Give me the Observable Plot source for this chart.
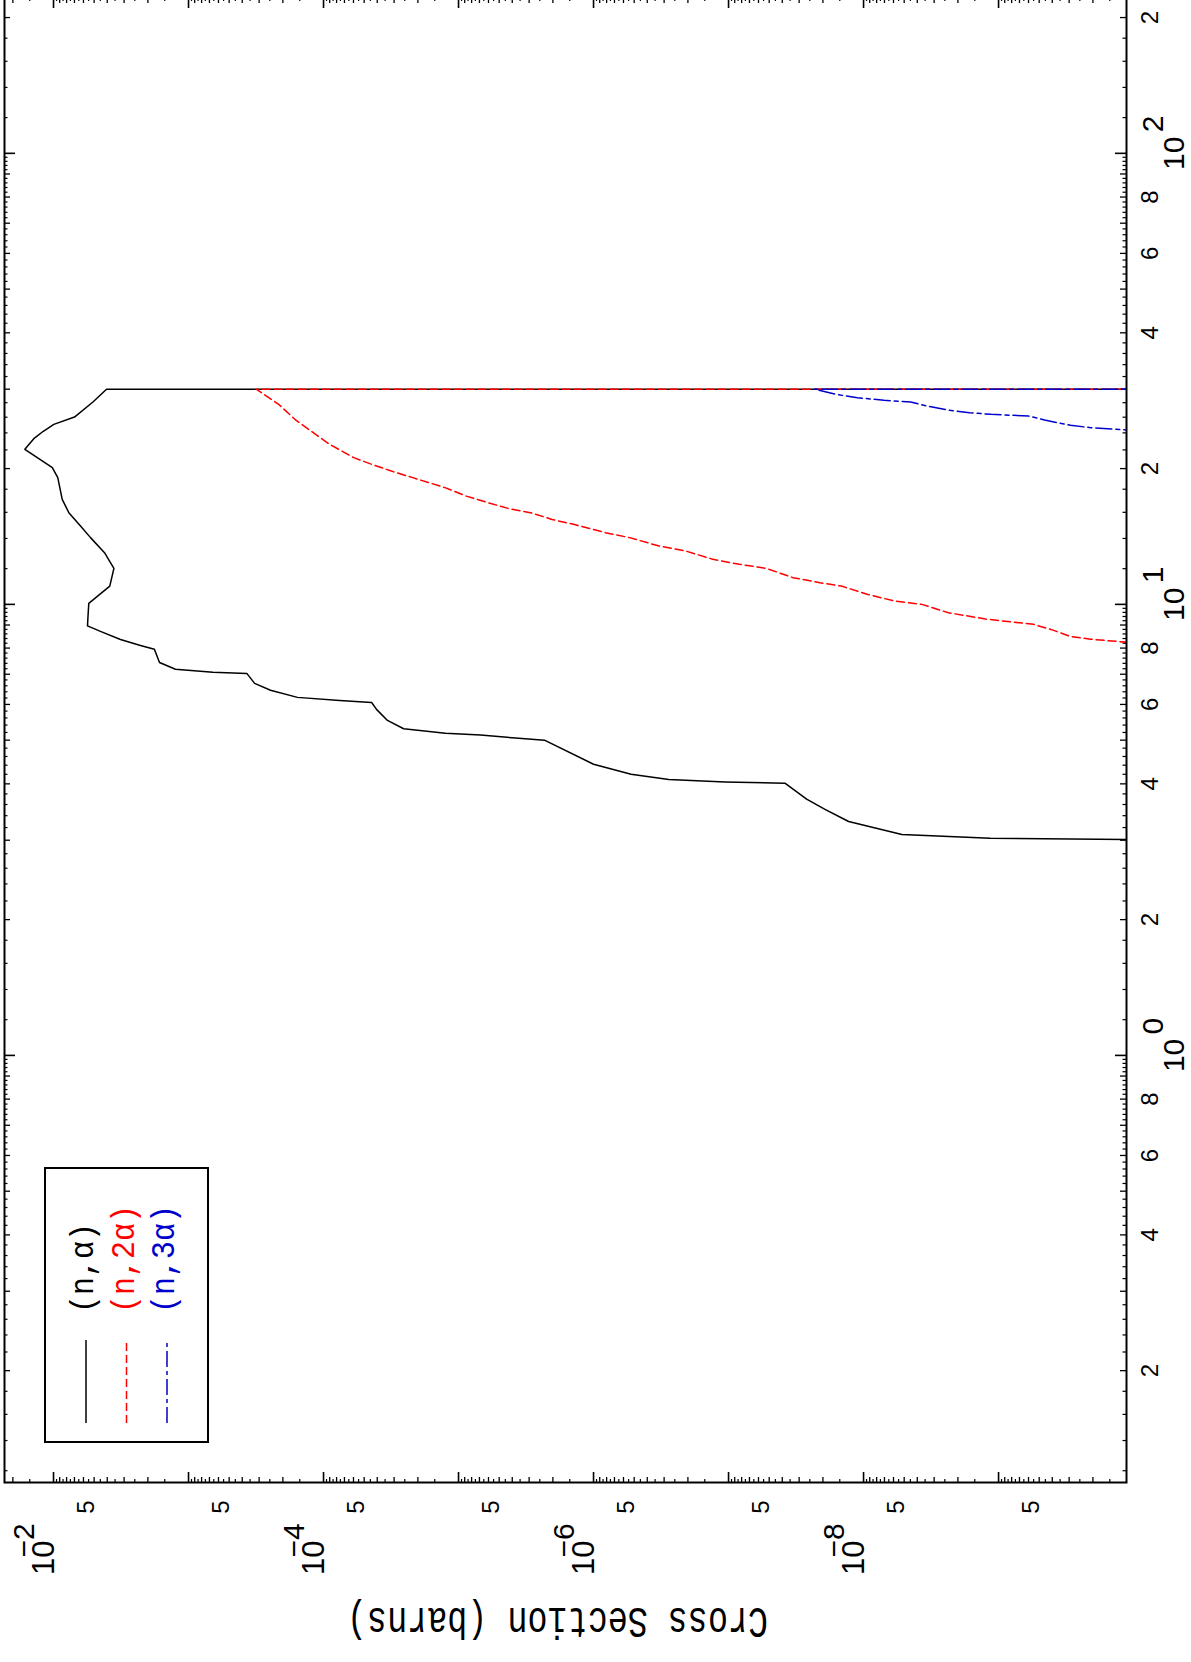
<!DOCTYPE html>
<html><head><meta charset="utf-8">
<script src="https://cdn.jsdelivr.net/npm/d3@7"></script>
<script src="https://cdn.jsdelivr.net/npm/@observablehq/plot@0.6"></script>
<style>
html,body{margin:0;padding:0;background:#fff;overflow:hidden;width:1191px;height:1662px;}
#rot{position:absolute;left:0;top:0;width:1700px;height:1191px;transform-origin:0 0;transform:translate(0px,1662px) rotate(-90deg);}
</style></head><body><div id="rot"></div>
<script>
// ---- data: (n,alpha)
const nAlphaE  = [2.99,3.03,3.09,3.3,3.51,3.7,4.01,4.04,4.09,4.2,4.42,5.0,5.06,5.13,5.18,5.3,5.53,5.85,6.06,6.12,6.22,6.45,6.68,7.03,7.07,7.18,7.43,7.95,8.11,8.36,8.71,8.96,9.26,10.05,10.98,12.02,13.02,14.06,14.92,15.97,17.09,19.1,20.1,22.07,23.3,24.2,25.06,26.02,28.14,30.0,30.0];
const nAlphaXS = [1e-11,1.15e-9,5.2e-9,1.29e-8,1.93e-8,2.64e-8,3.8e-8,1.06e-7,2.77e-7,5.27e-7,1.0e-6,2.31e-6,4.0e-6,6.87e-6,1.25e-5,2.55e-5,3.36e-5,4.05e-5,4.4e-5,7.6e-5,1.56e-4,2.47e-4,3.24e-4,3.7e-4,6.6e-4,1.25e-3,1.64e-3,1.79e-3,2.27e-3,3.19e-3,4.49e-3,5.6e-3,5.57e-3,5.48e-3,3.83e-3,3.57e-3,4.19e-3,5.32e-3,6.31e-3,7.7e-3,8.62e-3,9.3e-3,1.02e-2,1.63e-2,1.40e-2,1.19e-2,9.95e-3,6.99e-3,5.08e-3,4.05e-3,1e-12];
// (n,2alpha)
const n2AlphaE  = [8.24,8.37,8.49,8.8,9.03,9.28,9.58,10.0,10.17,10.52,10.98,11.17,11.46,12.02,12.27,12.59,13.13,13.47,14.06,14.42,15.05,15.43,15.97,16.30,16.81,17.38,18.15,19.1,19.75,20.51,21.15,22.63,24.23,25.72,27.77,30.0,30.0];
const n2AlphaXS = [1.1e-10,2.08e-10,2.93e-10,4.1e-10,5.5e-10,1.25e-9,2.35e-9,3.7e-9,5.87e-9,9.3e-9,1.46e-8,2.11e-8,3.33e-8,5.26e-8,8.32e-8,1.31e-7,2.07e-7,3.27e-7,5.41e-7,8.17e-7,1.41e-6,2.03e-6,2.93e-6,4.22e-6,6.08e-6,8.77e-6,1.26e-5,2.19e-5,3.15e-5,4.54e-5,5.97e-5,9.0e-5,1.24e-4,1.63e-4,2.15e-4,3.15e-4,1e-12];
// (n,3alpha)
const n3AlphaE  = [24.25,24.65,24.94,25.63,26.16,26.38,26.6,26.97,27.53,28.1,28.34,28.73,29.22,30.0,30.0];
const n3AlphaXS = [9e-11,2.08e-10,2.93e-10,4.56e-10,6.0e-10,1.14e-9,1.64e-9,2.36e-9,3.4e-9,4.47e-9,7.05e-9,1.11e-8,1.61e-8,2.31e-8,1e-12];

const seriesNames  = ["(n,α)", "(n,2α)", "(n,3α)"];
const seriesColors = ["#000000", "#ff0000", "#0000cc"];
const seriesDash   = [null, "8,4", "16,4,4,4"];

// ---- axis tick labels
const energyDecadeTicks = [1, 10, 100];
const energyDecadeExp   = ["0", "1", "2"];
const energyLabelTicks  = [0.2,0.4,0.6,0.8,2,4,6,8,20,40,60,80,200];
const energyLabelText   = ["2","4","6","8","2","4","6","8","2","4","6","8","2"];
const xsDecadeLabelTicks = [1e-2, 1e-4, 1e-6, 1e-8];
const xsDecadeExp        = ["−2", "−4", "−6", "−8"];
const xsFiveTicks = [5e-3,5e-4,5e-5,5e-6,5e-7,5e-8,5e-9,5e-10];
const xsFiveText  = "5";
const yTitle = "Cross Section (barns)";

// ---- layout
const W = 1700, H = 1191, mL = 179, mR = 35, mT = 4, mB = 65;
const FH = H - mT - mB, FW = W - mL - mR;
const xDomain = [0.1130, 222.7], yDomain = [1.128e-10, 2.307e-2];
const sans = "Liberation Sans, Arial, sans-serif";
const mono = "Liberation Mono, monospace";

const rows = (E, S) => E.map((e, i) => ({e, s: S[i]}));
const series = [rows(nAlphaE, nAlphaXS), rows(n2AlphaE, n2AlphaXS), rows(n3AlphaE, n3AlphaXS)];

// tick positions
const inX = v => v >= xDomain[0] && v <= xDomain[1];
const inY = v => v >= yDomain[0] && v <= yDomain[1];
const eMajor = [], eInt = [], eFrac = [];
for (let k = -1; k <= 2; k++) {
  const p = Math.pow(10, k);
  if (inX(p)) eMajor.push(p);
  for (let j = 6; j < 50; j++) {
    const v = (j / 5) * p;
    if (!inX(v)) continue;
    (j % 5 === 0 ? eInt : eFrac).push(v);
  }
}
const sMajor = [], sInt = [], sHalf = [];
for (let k = -11; k <= -1; k++) {
  const p = Math.pow(10, k);
  if (inY(p)) sMajor.push(p);
  for (let j = 3; j < 20; j++) {
    const v = (j / 2) * p;
    if (!inY(v)) continue;
    (j % 2 === 0 ? sInt : sHalf).push(v);
  }
}
const tickX = (vals, len, sw) => [
  Plot.ruleX(vals, {x: d => d, insetBottom: FH - len, stroke: "black", strokeWidth: sw}),
  Plot.ruleX(vals, {x: d => d, insetTop: FH - len, stroke: "black", strokeWidth: sw})
];
const tickY = (vals, len, sw) => [
  Plot.ruleY(vals, {y: d => d, insetRight: FW - len, stroke: "black", strokeWidth: sw}),
  Plot.ruleY(vals, {y: d => d, insetLeft: FW - len, stroke: "black", strokeWidth: sw})
];

const svg = Plot.plot({
  width: W, height: H,
  marginLeft: mL, marginRight: mR, marginTop: mT, marginBottom: mB,
  style: {maxWidth: "none", background: "white", overflow: "visible"},
  x: {type: "log", domain: xDomain, axis: null},
  y: {type: "log", domain: yDomain, axis: null},
  marks: [
    ...tickX(eMajor, 11, 1.6), ...tickX(eInt, 6, 1.3), ...tickX(eFrac, 3.5, 1.2),
    ...tickY(sMajor, 11, 1.6), ...tickY(sInt, 6, 1.3), ...tickY(sHalf, 4, 1.2),
    ...series.map((d, i) => Plot.line(d, {
      x: "e", y: "s", stroke: seriesColors[i], strokeWidth: 1.5,
      strokeDasharray: seriesDash[i], clip: true
    })),
    Plot.frame({stroke: "black", strokeWidth: 2}),
    // energy axis labels
    Plot.text(energyLabelTicks, {x: d => d, text: (d, i) => energyLabelText[i], frameAnchor: "bottom",
      lineAnchor: "bottom", dy: 31, fontSize: 24, fontFamily: sans, fill: "black"}),
    Plot.text(energyDecadeTicks, {x: d => d, text: () => "10", frameAnchor: "bottom",
      lineAnchor: "bottom", dy: 57, fontSize: 30, fontFamily: sans, fill: "black"}),
    Plot.text(energyDecadeTicks, {x: d => d, text: (d, i) => energyDecadeExp[i], frameAnchor: "bottom",
      lineAnchor: "bottom", textAnchor: "start", dx: 21, dy: 36, fontSize: 30, fontFamily: sans, fill: "black"}),
    // cross-section axis labels
    Plot.text(xsFiveTicks, {y: d => d, text: () => xsFiveText, frameAnchor: "left",
      lineAnchor: "bottom", textAnchor: "end", dx: -18, dy: 0, fontSize: 24, fontFamily: sans, fill: "black"}),
    Plot.text(xsDecadeLabelTicks, {y: d => d, text: () => "10", frameAnchor: "left",
      lineAnchor: "bottom", textAnchor: "end", dx: -58, dy: 0, fontSize: 31, fontFamily: sans, fill: "black"}),
    Plot.text(xsDecadeLabelTicks, {y: d => d, text: (d, i) => xsDecadeExp[i], frameAnchor: "left",
      lineAnchor: "bottom", textAnchor: "start", dx: -75, dy: -20, fontSize: 30, fontFamily: sans, fill: "black"}),
    Plot.text([yTitle], {text: d => d, frameAnchor: "left", rotate: -90, textAnchor: "middle",
      lineAnchor: "bottom", dx: -125, dy: -8, fontSize: 44, fontFamily: mono, fill: "black"})
  ]
});
document.getElementById("rot").appendChild(svg);

d3.select(svg).selectAll("text").filter(function () { return this.textContent === yTitle; })
  .attr("textLength", 421).attr("lengthAdjust", "spacingAndGlyphs");

// legend
const g = d3.select(svg).append("g");
g.append("rect").attr("x", 220).attr("y", 45).attr("width", 274).attr("height", 163)
  .attr("fill", "white").attr("stroke", "black").attr("stroke-width", 2);
seriesNames.forEach((name, i) => {
  const v = 86 + i * 40.5;
  g.append("line").attr("x1", 239).attr("x2", 322).attr("y1", v).attr("y2", v)
    .attr("stroke", seriesColors[i]).attr("stroke-width", 1.5)
    .attr("stroke-dasharray", seriesDash[i]);
  g.append("text").attr("x", 349).attr("y", v + 7).text(name)
    .attr("text-anchor", "start")
    .attr("fill", seriesColors[i]).attr("font-family", mono).attr("font-size", 34)
    .attr("textLength", 18 * name.length).attr("lengthAdjust", "spacingAndGlyphs");
});
</script></body></html>
